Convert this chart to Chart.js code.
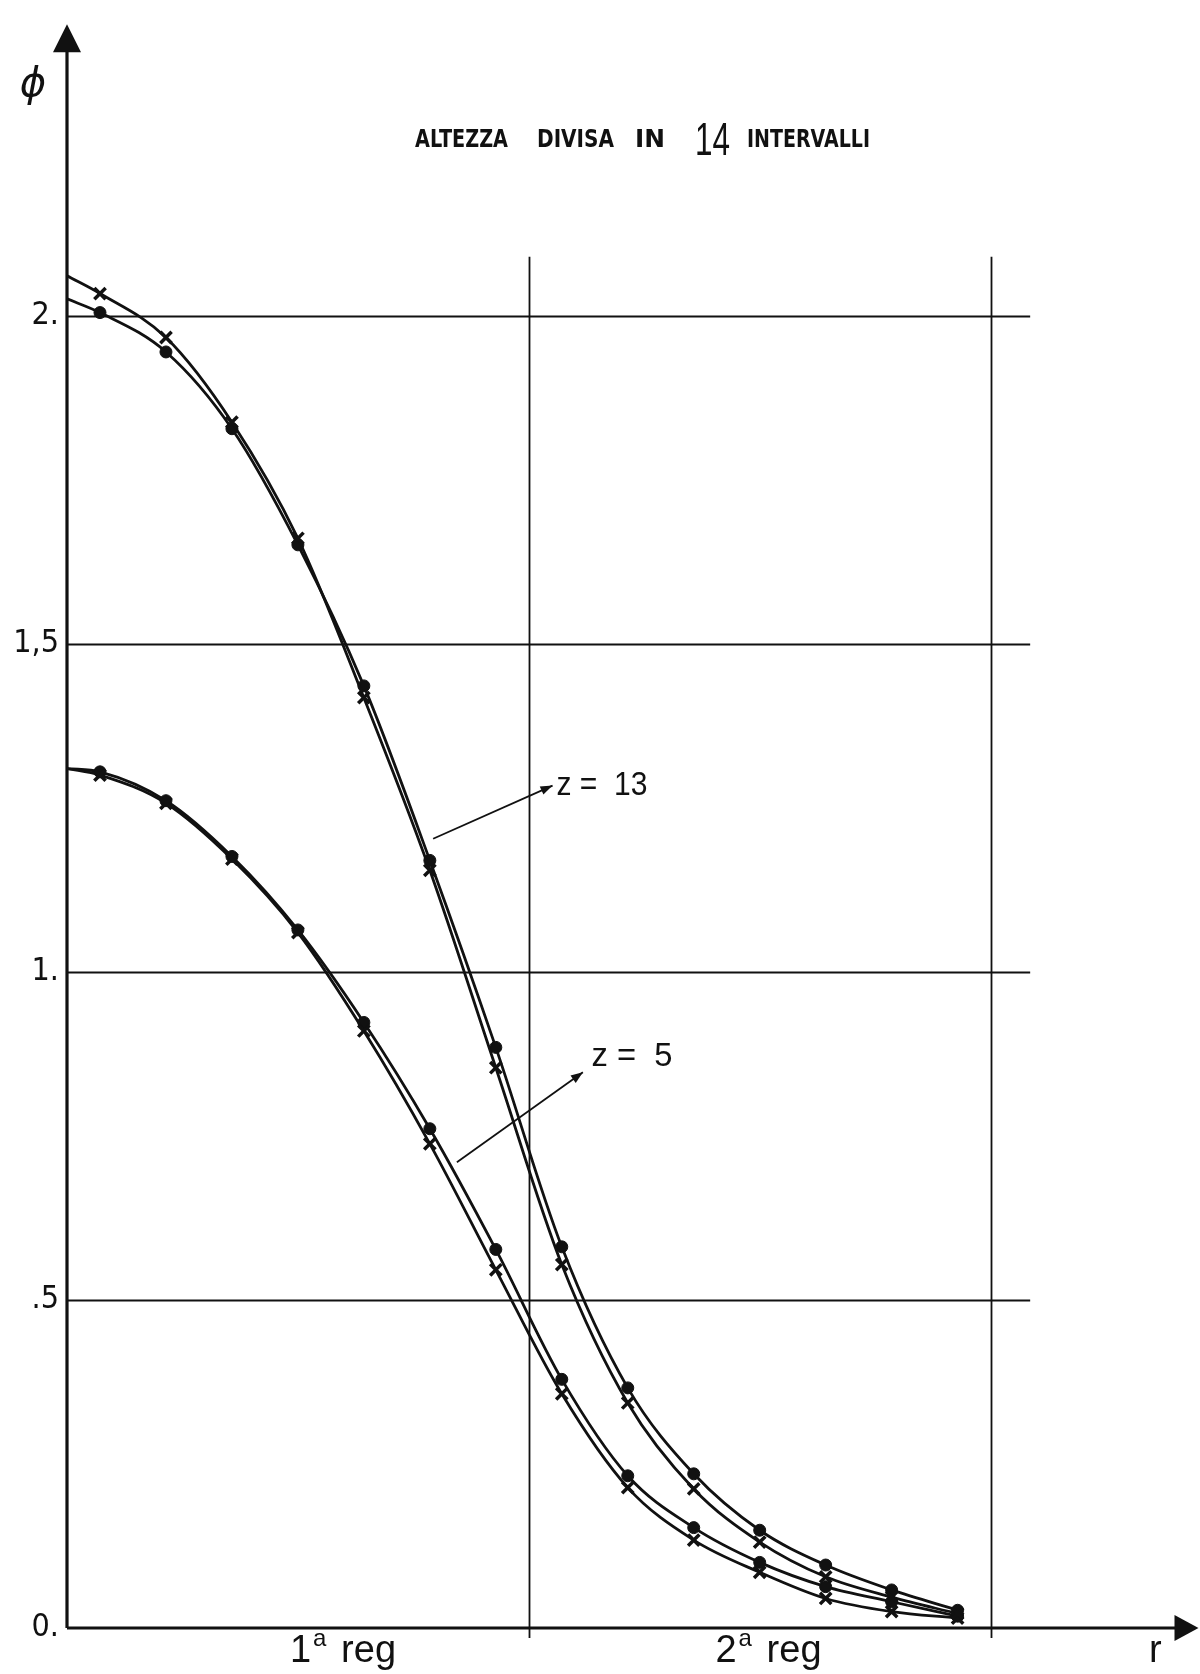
<!DOCTYPE html>
<html>
<head>
<meta charset="utf-8">
<script src="https://cdn.jsdelivr.net/npm/chart.js@4.4.1/dist/chart.umd.min.js"></script>
<style>
  html, body { margin: 0; padding: 0; background: #fff; }
  #wrap { position: relative; width: 1200px; height: 1674px; }
</style>
</head>
<body>
<div id="wrap"><canvas id="phiChart" width="1200" height="1674"></canvas></div>
<script>
// r positions: the axis, then the centre of each of the 14 intervals
const rPos = [0, 0.5, 1.5, 2.5, 3.5, 4.5, 5.5, 6.5, 7.5, 8.5, 9.5, 10.5, 11.5, 12.5, 13.5];

const yTicks = [0, 0.5, 1, 1.5, 2];
const yTickLabels = ['0.', '.5', '1.', '1,5', '2.'];

// phi at z = 13
const z13Cross = [2.061, 2.034, 1.967, 1.838, 1.661, 1.418, 1.155, 0.854, 0.554, 0.343, 0.212, 0.131, 0.078, 0.047, 0.022];
const z13Dot   = [2.026, 2.005, 1.945, 1.828, 1.651, 1.436, 1.170, 0.885, 0.581, 0.366, 0.235, 0.149, 0.096, 0.058, 0.027];

// phi at z = 5
const z5Cross = [1.310, 1.300, 1.257, 1.172, 1.060, 0.910, 0.738, 0.546, 0.357, 0.214, 0.134, 0.085, 0.045, 0.025, 0.015];
const z5Dot   = [1.310, 1.305, 1.261, 1.176, 1.064, 0.923, 0.761, 0.577, 0.379, 0.232, 0.153, 0.100, 0.063, 0.040, 0.018];

const INK = '#111';

function series(values, style) {
  const isDot = style === 'circle';
  return {
    data: values.map((v, i) => ({ x: rPos[i], y: v })),
    borderColor: INK,
    borderWidth: 2.8,
    fill: false,
    cubicInterpolationMode: 'monotone',
    pointStyle: style,
    // no marker where the curve meets the axis
    pointRadius: values.map((v, i) => i === 0 ? 0 : (isDot ? 6 : 8)),
    pointBackgroundColor: INK,
    pointBorderColor: INK,
    pointBorderWidth: isDot ? 1 : 3.5
  };
}

function arrowHead(ctx, x0, y0, x1, y1, len, half) {
  const a = Math.atan2(y1 - y0, x1 - x0);
  ctx.beginPath();
  ctx.moveTo(x1, y1);
  ctx.lineTo(x1 - len * Math.cos(a) + half * Math.sin(a), y1 - len * Math.sin(a) - half * Math.cos(a));
  ctx.lineTo(x1 - len * Math.cos(a) - half * Math.sin(a), y1 - len * Math.sin(a) + half * Math.cos(a));
  ctx.closePath();
  ctx.fill();
}

// text squeezed or stretched to a given width
function fitText(ctx, text, x, y, width) {
  const w = ctx.measureText(text).width;
  ctx.save();
  ctx.translate(x, y);
  ctx.scale(width / w, 1);
  ctx.fillText(text, 0, 0);
  ctx.restore();
}

const framePlugin = {
  id: 'frame',
  beforeDatasetsDraw(chart) {
    const { ctx, chartArea: ca, scales: { x, y } } = chart;
    ctx.save();
    ctx.strokeStyle = INK;
    ctx.fillStyle = INK;

    // horizontal rules at the labelled levels
    ctx.lineWidth = 1.8;
    yTicks.filter(v => v > 0).forEach(v => {
      const py = Math.round(y.getPixelForValue(v)) + 0.5;
      ctx.beginPath();
      ctx.moveTo(ca.left, py);
      ctx.lineTo(x.getPixelForValue(14.6), py);
      ctx.stroke();
    });

    // region boundaries
    [7, 14].forEach(v => {
      const px = Math.round(x.getPixelForValue(v)) + 0.5;
      ctx.beginPath();
      ctx.moveTo(px, y.getPixelForValue(2.09));
      ctx.lineTo(px, ca.bottom + 10);
      ctx.stroke();
    });

    // axes with arrows
    ctx.lineWidth = 3.2;
    const ox = ca.left, oy = ca.bottom;
    ctx.beginPath();
    ctx.moveTo(ox, oy);
    ctx.lineTo(ox, ca.top + 20);
    ctx.moveTo(ox, oy);
    ctx.lineTo(ca.right - 6, oy);
    ctx.stroke();
    arrowHead(ctx, ox, oy, ox, ca.top - 3, 28, 14);
    arrowHead(ctx, ox, oy, ca.right + 10, oy, 24, 13);
    ctx.restore();
  },
  afterDatasetsDraw(chart) {
    const { ctx, chartArea: ca, scales: { x, y } } = chart;
    ctx.save();
    ctx.fillStyle = INK;
    ctx.strokeStyle = INK;
    ctx.textBaseline = 'alphabetic';
    ctx.textAlign = 'left';

    // heading
    ctx.font = 'bold 25px "DejaVu Sans"';
    fitText(ctx, 'ALTEZZA', 415, 147, 93);
    fitText(ctx, 'DIVISA', 537, 147, 77);
    fitText(ctx, 'IN', 635, 147, 30);
    fitText(ctx, 'INTERVALLI', 747, 147, 123);
    ctx.font = '46px "Liberation Sans"';
    fitText(ctx, '14', 695, 155, 35);

    // axis names
    ctx.font = 'italic 40px "DejaVu Sans"';
    ctx.textAlign = 'center';
    ctx.textBaseline = 'middle';
    ctx.fillText('\u03D5', 33, 86);
    ctx.textAlign = 'left';
    ctx.textBaseline = 'alphabetic';
    ctx.font = '38px "Liberation Sans"';
    ctx.fillText('r', x.getPixelForValue(16.4), 1662);

    // region labels
    const regionLabel = (num, at) => {
      const left = x.getPixelForValue(at);
      ctx.font = '38px "Liberation Sans"';
      ctx.fillText(num, left, 1662);
      const w = ctx.measureText(num).width;
      ctx.font = '24px "Liberation Sans"';
      ctx.fillText('a', left + w + 2, 1646);
      ctx.font = '38px "Liberation Sans"';
      ctx.fillText('reg', left + w + 30, 1662);
    };
    regionLabel('1', 3.38);
    regionLabel('2', 9.83);

    // curve labels with leader arrows
    ctx.lineWidth = 1.8;
    const leader = (r0, v0, r1, v1) => {
      const x0 = x.getPixelForValue(r0), y0 = y.getPixelForValue(v0);
      const x1 = x.getPixelForValue(r1), y1 = y.getPixelForValue(v1);
      ctx.beginPath();
      ctx.moveTo(x0, y0);
      ctx.lineTo(x1, y1);
      ctx.stroke();
      arrowHead(ctx, x0, y0, x1, y1, 12, 4.5);
    };
    leader(5.55, 1.203, 7.36, 1.284);
    leader(5.91, 0.710, 7.82, 0.847);

    ctx.font = '33px "Liberation Sans"';
    ctx.textBaseline = 'middle';
    fitText(ctx, 'z =  13', x.getPixelForValue(7.42), y.getPixelForValue(1.284), 91);
    fitText(ctx, 'z =  5', x.getPixelForValue(7.95), y.getPixelForValue(0.871), 81);
    ctx.restore();
  }
};

new Chart(document.getElementById('phiChart'), {
  type: 'line',
  data: {
    datasets: [
      series(z13Cross, 'crossRot'),
      series(z13Dot, 'circle'),
      series(z5Cross, 'crossRot'),
      series(z5Dot, 'circle')
    ]
  },
  options: {
    responsive: false,
    animation: false,
    layout: { padding: { top: 20, right: 11, bottom: 46, left: 0 } },
    plugins: {
      legend: { display: false },
      tooltip: { enabled: false },
      title: { display: false }
    },
    scales: {
      x: {
        type: 'linear',
        min: 0,
        max: 17,
        display: false
      },
      y: {
        type: 'linear',
        min: 0,
        max: 2.44,
        afterFit: s => { s.width = 67; },
        afterBuildTicks: s => { s.ticks = yTicks.map(v => ({ value: v })); },
        grid: { display: false, drawTicks: false },
        border: { display: false },
        ticks: {
          padding: 8,
          color: INK,
          font: { family: '"Liberation Sans Narrow", "DejaVu Sans Condensed", sans-serif', size: 32 },
          callback: (v, i) => yTickLabels[i]
        }
      }
    }
  },
  plugins: [framePlugin]
});
</script>
</body>
</html>
